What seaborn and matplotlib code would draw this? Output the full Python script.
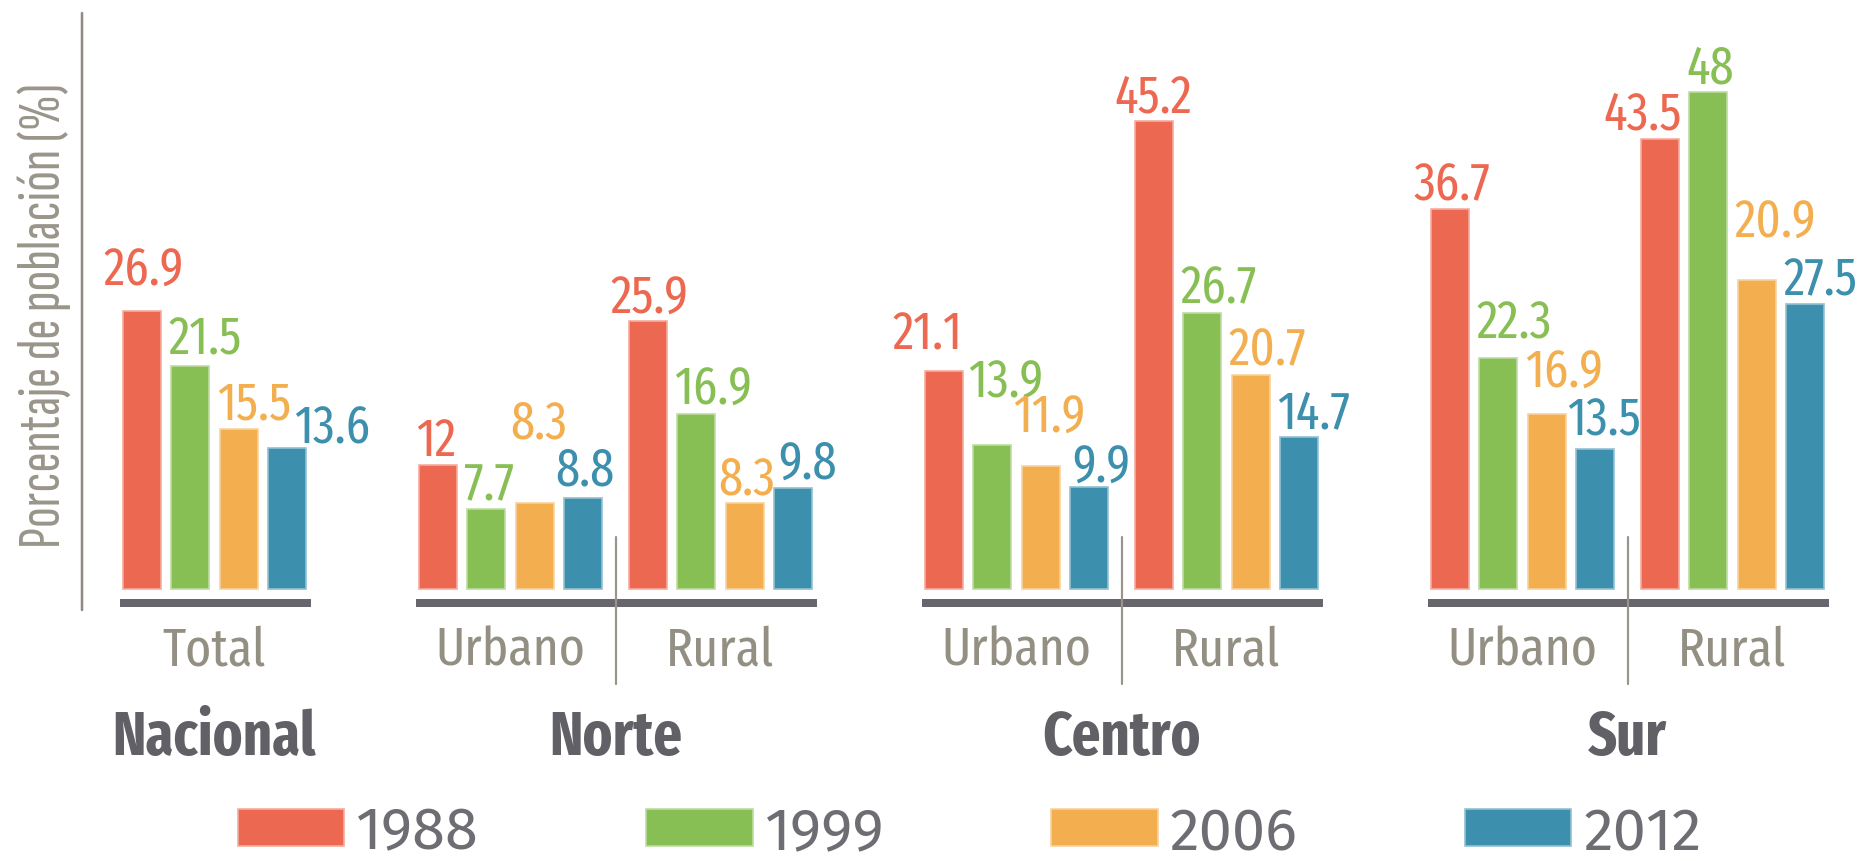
import numpy as np
import pandas as pd
import matplotlib
matplotlib.use("Agg")
import matplotlib.pyplot as plt
import matplotlib.colors as mcolors
import seaborn as sns

# values (% of population)
regions = ["Nacional", "Norte", "Norte", "Centro", "Centro", "Sur", "Sur"]
areas = ["Total", "Urbano", "Rural", "Urbano", "Rural", "Urbano", "Rural"]
years = ["1988", "1999", "2006", "2012"]
v1988 = [26.9, 12, 25.9, 21.1, 45.2, 36.7, 43.5]
v1999 = [21.5, 7.7, 16.9, 13.9, 26.7, 22.3, 48]
# the Sur/Rural 2006 bar is drawn at ~29.9 in the source although it is labelled 20.9
v2006 = [15.5, 8.3, 8.3, 11.9, 20.7, 16.9, 29.9]
v2012 = [13.6, 8.8, 9.8, 9.9, 14.7, 13.5, 27.5]
lab2006 = ["15.5", "8.3", "8.3", "11.9", "20.7", "16.9", "20.9"]

colors = ["#EC6850", "#88BF54", "#F3AE4F", "#3C8FAD"]
axis_grey = "#9A958A"
area_grey = "#948F83"
dark_grey = "#616066"

# ---------------- layout (pixels of the 1867x862 canvas) ----------------
W, H = 1867, 862
ZERO = 590          # y pixel of value 0
PPU = 10.35         # pixels per percentage point
FIRST = 214.5       # centre of the first group
WITHIN = 210        # urbano -> rural spacing
BETWEEN = 296       # region -> region spacing
STEP = 48.5         # bar to bar step inside a group
BAR_W = 38


def yd(py):
    # pixel row -> data y
    return (ZERO - py) / PPU


def pt(px):
    return px * 0.72


centers = []
pos = FIRST
for i, r in enumerate(regions):
    if i > 0:
        pos += WITHIN if r == regions[i - 1] else BETWEEN
    centers.append(pos)

values = {"1988": v1988, "1999": v1999, "2006": v2006, "2012": v2012}
labels = {"1988": [f"{v:g}" for v in v1988], "1999": [f"{v:g}" for v in v1999],
          "2006": lab2006, "2012": [f"{v:g}" for v in v2012]}
df = pd.DataFrame([
    {"x": centers[i], "area": i, "year": y, "value": values[y][i]}
    for y in years for i in range(len(areas))
])

# manual label nudges (dx, dy in px) where the designer moved labels apart
nudges = {
    (0, "1988"): (-16, 16), (0, "1999"): (0, 3), (0, "2012"): (29, -4),
    (1, "2006"): (-3, 56), (1, "2012"): (-6, 3),
    (2, "1988"): (-15, -2), (2, "2006"): (-5, 0), (2, "2012"): (7, 0),
    (3, "1988"): (-29, 12), (3, "1999"): (-2, 38), (3, "2006"): (-6, 24), (3, "2012"): (5, -5),
    (4, "1988"): (-17, 0),
    (5, "1988"): (-14, 0), (5, "1999"): (0, 11), (5, "2006"): (0, 17), (5, "2012"): (-6, 5),
    (6, "1988"): (-34, 0), (6, "2006"): (0, 33),
}

sns.set_theme(style="white")
plt.rcParams["font.family"] = ["Fira Sans Extra Condensed", "DejaVu Sans"]

fig = plt.figure(figsize=(W / 100, H / 100), dpi=100)
ax = fig.add_axes([0, 0, 1, 1])

sns.barplot(data=df, x="x", y="value", hue="year", hue_order=years, palette=colors,
            native_scale=True, width=4 * STEP / WITHIN, gap=1 - BAR_W / STEP,
            errorbar=None, saturation=1, ax=ax)


def lighter(c, amt=0.45):
    rgb = np.array(mcolors.to_rgb(c))
    return tuple(rgb + (1 - rgb) * amt)


# bars: light outline + value labels
bars_by_area = {i: [] for i in range(len(areas))}
for cont, year, col in zip(ax.containers, years, colors):
    for bar in cont:
        bar.set_edgecolor(lighter(col))
        bar.set_linewidth(1.2)
        cx = bar.get_x() + bar.get_width() / 2
        i = int(np.argmin([abs(cx - c) for c in centers]))
        bars_by_area[i].append(bar)
        h = bar.get_height()
        dx, dy = nudges.get((i, year), (0, 0))
        ax.annotate(labels[year][i], xy=(bar.get_x(), h), xytext=(pt(-3 + dx), pt(10 + dy)),
                    textcoords="offset points", ha="left", va="baseline",
                    color=col, fontsize=38)

# region baselines, dividers, area and region labels
done = set()
for i, r in enumerate(regions):
    if r in done:
        continue
    done.add(r)
    idx = [k for k in range(len(regions)) if regions[k] == r]
    all_bars = [b for k in idx for b in bars_by_area[k]]
    left = min(b.get_x() for b in all_bars) - 3
    right = max(b.get_x() + b.get_width() for b in all_bars) + 5
    ax.plot([left, right], [yd(604), yd(604)], color="#67666C", lw=pt(8),
            solid_capstyle="butt", zorder=3)
    if len(idx) == 2:
        u_right = max(b.get_x() + b.get_width() for b in bars_by_area[idx[0]])
        r_left = min(b.get_x() for b in bars_by_area[idx[1]])
        mid = (u_right + r_left) / 2
        ax.plot([mid, mid], [yd(538), yd(685)], color=axis_grey, lw=pt(2.2), zorder=4)
    else:
        mid = centers[idx[0]]
    for k in idx:
        ax.text(centers[k], yd(665), areas[k], ha="center", va="baseline",
                color=area_grey, fontsize=39)
    ax.text(mid, yd(755), r, ha="center", va="baseline", color=dark_grey,
            fontsize=44, fontweight="bold")

# y axis line and label
ax.plot([82, 82], [yd(14), yd(611)], color="#8E8A80", lw=pt(2.5))
ax.text(44, yd(316), "Porcentaje de población (%)", rotation=90, ha="center",
        va="center", color=axis_grey, fontsize=44, fontweight="light",
        family=["Sofia Sans Extra Condensed", "Fira Sans Extra Condensed", "DejaVu Sans"])

ax.set_xlim(0, W)
ax.set_ylim(yd(H), yd(0))
ax.axis("off")

sns.move_legend(ax, "lower left", bbox_to_anchor=(238 / W, 0), ncol=4,
                frameon=False, title=None, handlelength=1.78,
                handleheight=0.6, handletextpad=0.2, columnspacing=2.8,
                borderpad=0, borderaxespad=0,
                prop={"family": ["Fira Sans", "Open Sans", "DejaVu Sans"],
                      "weight": "normal", "size": 43})
leg = ax.get_legend()
for hdl, col in zip(leg.legend_handles, colors):
    hdl.set_facecolor(col)
    hdl.set_edgecolor(lighter(col))
    hdl.set_linewidth(1.2)
for t in leg.get_texts():
    t.set_color("#6E6D73")

fig.savefig("out.png", dpi=100)
